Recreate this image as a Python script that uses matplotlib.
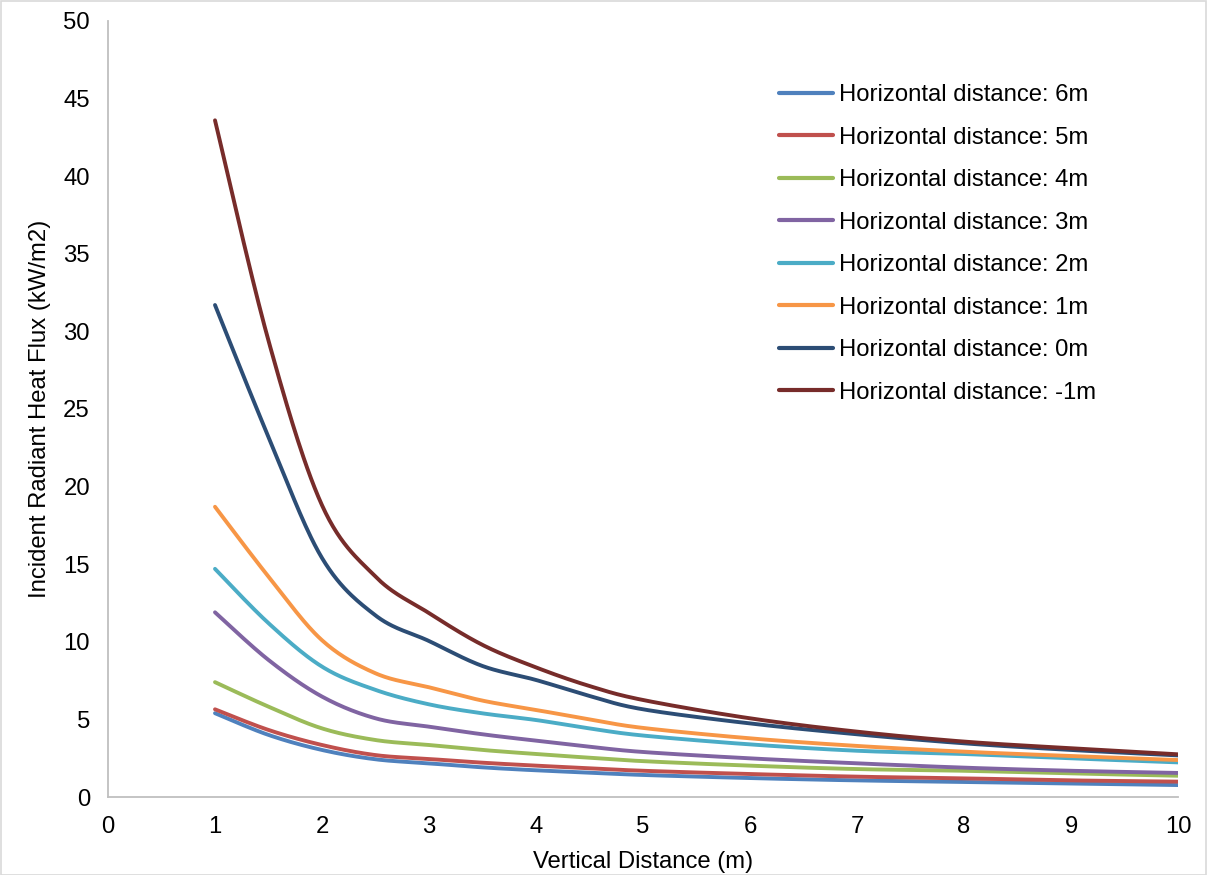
import numpy as np
import matplotlib
matplotlib.use("Agg")
import matplotlib.pyplot as plt

plt.rcParams['font.family'] = ['Liberation Sans', 'DejaVu Sans']

vertical_distance = [1, 1.5, 2, 2.5, 3, 3.5, 4, 4.5, 5, 6, 7, 8, 9, 10]

flux_6m = [5.4, 4.0, 3.03, 2.43, 2.17, 1.91, 1.72, 1.57, 1.42, 1.22, 1.07, 0.97, 0.86, 0.77]
flux_5m = [5.65, 4.32, 3.35, 2.7, 2.45, 2.21, 2.02, 1.85, 1.69, 1.48, 1.31, 1.2, 1.07, 0.99]
flux_4m = [7.4, 5.82, 4.42, 3.67, 3.35, 3.03, 2.77, 2.53, 2.31, 2.02, 1.8, 1.69, 1.52, 1.37]
flux_3m = [11.9, 8.83, 6.47, 5.07, 4.53, 4.04, 3.63, 3.24, 2.9, 2.49, 2.17, 1.89, 1.69, 1.55]
flux_2m = [14.7, 11.2, 8.4, 6.9, 5.97, 5.39, 4.96, 4.42, 3.96, 3.39, 2.98, 2.77, 2.49, 2.23]
flux_1m = [18.7, 14.2, 10.1, 7.97, 7.07, 6.21, 5.61, 5.0, 4.45, 3.78, 3.29, 2.92, 2.64, 2.38]
flux_0m = [31.7, 23.2, 15.4, 11.7, 10.05, 8.44, 7.54, 6.51, 5.65, 4.74, 4.04, 3.46, 3.03, 2.68]
flux_m1m = [43.6, 29.4, 18.8, 14.2, 11.85, 9.8, 8.35, 7.15, 6.25, 5.07, 4.21, 3.57, 3.14, 2.75]

series_labels = ["Horizontal distance: 6m", "Horizontal distance: 5m",
                 "Horizontal distance: 4m", "Horizontal distance: 3m",
                 "Horizontal distance: 2m", "Horizontal distance: 1m",
                 "Horizontal distance: 0m", "Horizontal distance: -1m"]
series_values = [flux_6m, flux_5m, flux_4m, flux_3m, flux_2m, flux_1m, flux_0m, flux_m1m]
series_colors = ["#4F81BD", "#C0504D", "#9BBB59", "#8064A2",
                 "#4BACC6", "#F79646", "#2C4D75", "#772C2A"]

x_ticks = list(range(0, 11))
y_ticks = list(range(0, 51, 5))


def smooth(xs, ys, sx, sy, n=30):
    """Excel-like smoothed line (Catmull-Rom Bezier) drawn in display-scaled space."""
    P = np.column_stack([np.asarray(xs, float) * sx, np.asarray(ys, float) * sy])
    m = len(P)
    out = [P[0]]
    t = np.linspace(0, 1, n)[1:]
    for i in range(m - 1):
        p0 = P[i - 1] if i > 0 else P[i]
        p1 = P[i]
        p2 = P[i + 1]
        p3 = P[i + 2] if i + 2 < m else P[i + 1]
        c1 = p1 + (p2 - p0) / 6.0
        c2 = p2 - (p3 - p1) / 6.0
        tt = t[:, None]
        seg = ((1 - tt) ** 3) * p1 + 3 * ((1 - tt) ** 2) * tt * c1 + 3 * (1 - tt) * tt ** 2 * c2 + tt ** 3 * p2
        out.extend(seg)
    out = np.array(out)
    return out[:, 0] / sx, out[:, 1] / sy


W, H = 1207, 875
fig = plt.figure(figsize=(W / 100, H / 100), dpi=100)
ax = fig.add_axes([108 / W, 78 / H, (1178 - 108) / W, (797 - 21) / H])

sx = (1178 - 108) / 10.0
sy = (797 - 21) / 50.0
for vals, lab, col in zip(series_values, series_labels, series_colors):
    xs, ys = smooth(vertical_distance, vals, sx, sy)
    ax.plot(xs, ys, color=col, lw=2.8, label=lab, solid_capstyle='round')

FS = 17.2
ax.set_xlim(0, 10)
ax.set_ylim(0, 50)
ax.set_xticks(x_ticks)
ax.set_yticks(y_ticks)
ax.tick_params(axis='both', length=0, labelsize=FS, colors='black')
ax.tick_params(axis='x', pad=14)
ax.tick_params(axis='y', pad=13)
for s in ['top', 'right']:
    ax.spines[s].set_visible(False)
for s in ['left', 'bottom']:
    ax.spines[s].set_color('#BFBFBF')
    ax.spines[s].set_linewidth(1.3)

ax.set_xlabel("Vertical Distance (m)", fontsize=FS, labelpad=9)
ax.set_ylabel("Incident Radiant Heat Flux (kW/m2)", fontsize=FS, labelpad=9)

leg = ax.legend(loc='upper left', bbox_to_anchor=(779 / W, 1 - 84 / H),
                bbox_transform=fig.transFigure, frameon=False, fontsize=FS,
                handlelength=2.25, handletextpad=0.25, labelspacing=0.86,
                borderpad=0, borderaxespad=0)
for h in leg.get_lines():
    h.set_linewidth(3)

fig.patches.append(plt.Rectangle((0.5 / W, 0.5 / H), 1 - 1.5 / W, 1 - 1.5 / H,
                                 transform=fig.transFigure, fill=False,
                                 edgecolor='#D9D9D9', lw=1.2))

fig.savefig("out.png", dpi=100)
